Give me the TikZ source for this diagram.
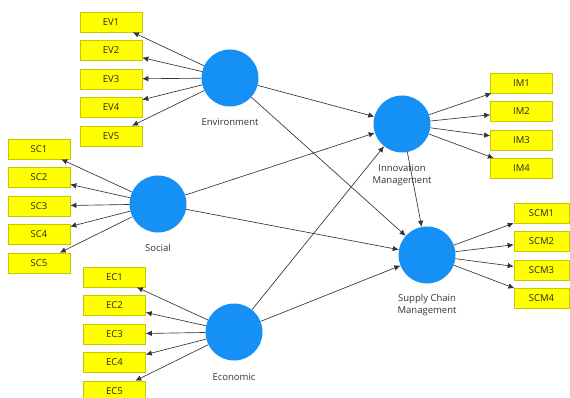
\documentclass[tikz,border=0pt]{standalone}
\usepackage{fontspec}
\setmainfont{Open Sans}
\usetikzlibrary{arrows.meta}
\definecolor{lvblue}{HTML}{1591F5}
\definecolor{boxyel}{HTML}{FFFF00}
\definecolor{boxedge}{HTML}{C8C800}
\definecolor{lbl}{HTML}{333333}
\begin{document}
\begin{tikzpicture}[x=1pt,y=-1pt,
  ind/.style={draw=boxedge,fill=boxyel,line width=0.6pt,minimum width=62pt,minimum height=20pt,inner sep=0pt,font=\fontsize{9.5}{11}\selectfont,text=black!85},
  indn/.style={ind,minimum width=55pt},
  lv/.style={circle,fill=lvblue,minimum size=57pt,inner sep=0pt},
  lab/.style={font=\fontsize{9.5}{11.5}\selectfont,text=lbl,align=center},
  arr/.style={-{Latex[length=6pt,width=5.5pt]},draw=black!80,line width=0.65pt}]
\useasboundingbox (0,0) rectangle (570,398);
% latent variables
\node[lv] (env) at (230,78) {};
\node[lv] (soc) at (158,204) {};
\node[lv] (eco) at (234,332) {};
\node[lv] (inn) at (402,124) {};
\node[lv] (scm) at (427,255) {};
\node[lab] (envl) at (230,122) {Environment};
\node[lab] (socl) at (158,248) {Social};
\node[lab] (ecol) at (234,377) {Economic};
\node[lab] (innl) at (402,175) {Innovation\\Management};
\node[lab] (scml) at (427,305) {Supply Chain\\Management};
% indicators
\node[ind] (ev1) at (111,22) {EV1};
\node[ind] (ev2) at (111,50.5) {EV2};
\node[ind] (ev3) at (111,79) {EV3};
\node[ind] (ev4) at (111,107.5) {EV4};
\node[ind] (ev5) at (111,136) {EV5};
\node[ind] (sc1) at (39,149) {SC1};
\node[ind] (sc2) at (39,177.5) {SC2};
\node[ind] (sc3) at (39,206) {SC3};
\node[ind] (sc4) at (39,234.5) {SC4};
\node[ind] (sc5) at (39,263) {SC5};
\node[ind] (ec1) at (114.5,277) {EC1};
\node[ind] (ec2) at (114.5,305.5) {EC2};
\node[ind] (ec3) at (114.5,334) {EC3};
\node[ind] (ec4) at (114.5,362.5) {EC4};
\node[ind] (ec5) at (114.5,391) {EC5};
\node[ind] (im1) at (521.5,83) {IM1};
\node[ind] (im2) at (521.5,111.5) {IM2};
\node[ind] (im3) at (521.5,140) {IM3};
\node[ind] (im4) at (521.5,168.5) {IM4};
\node[indn] (scm1) at (541.5,213) {SCM1};
\node[indn] (scm2) at (541.5,241.5) {SCM2};
\node[indn] (scm3) at (541.5,270) {SCM3};
\node[indn] (scm4) at (541.5,298.5) {SCM4};
% outer loadings
\foreach \i in {1,...,5} {
  \draw[arr] (env) -- (ev\i);
  \draw[arr] (soc) -- (sc\i);
  \draw[arr] (eco) -- (ec\i);
}
\foreach \i in {1,...,4} {
  \draw[arr] (inn) -- (im\i);
  \draw[arr] (scm) -- (scm\i);
}
% structural paths
\draw[arr] (env) -- (inn);
\draw[arr] (env) -- (scm);
\draw[arr] (soc) -- (inn);
\draw[arr] (soc) -- (scm);
\draw[arr] (eco) -- (inn);
\draw[arr] (eco) -- (scm);
\draw[arr] (inn) -- (scm);
\end{tikzpicture}
\end{document}
